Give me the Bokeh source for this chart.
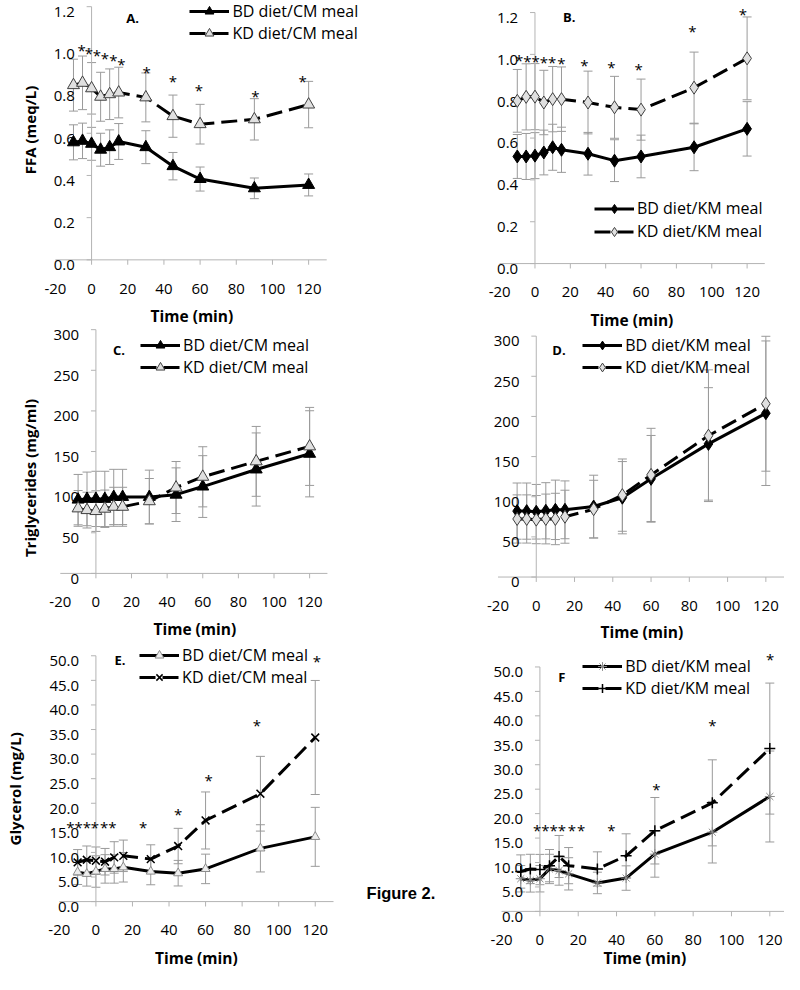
import math
from bokeh.plotting import figure
from bokeh.models import Range1d, Whisker, ColumnDataSource, Legend, LegendItem, TeeHead
from bokeh.core.properties import value
from bokeh.embed import file_html
from bokeh.resources import INLINE

# ---------------- data ----------------
time_min = [-10, -5, 0, 5, 10, 15, 30, 45, 60, 90, 120]
x_ticks = [-20, 0, 20, 40, 60, 80, 100, 120]
x_tick_labels = ["-20", "0", "20", "40", "60", "80", "100", "120"]

ffa_ticks = [0.0, 0.2, 0.4, 0.6, 0.8, 1.0, 1.2]
ffa_tick_labels = ["0.0", "0.2", "0.4", "0.6", "0.8", "1.0", "1.2"]
tg_ticks = [0, 50, 100, 150, 200, 250, 300]
tg_tick_labels = ["0", "50", "100", "150", "200", "250", "300"]
gly_ticks = [0, 5, 10, 15, 20, 25, 30, 35, 40, 45, 50]
gly_tick_labels = ["0.0", "5.0", "10.0", "15.0", "20.0", "25.0", "30.0", "35.0", "40.0", "45.0", "50.0"]

# A. FFA, CM meal
ffa_bd_cm = [0.557, 0.564, 0.550, 0.522, 0.534, 0.561, 0.534, 0.444, 0.383, 0.339, 0.355]
ffa_bd_cm_se = [0.083, 0.084, 0.078, 0.078, 0.082, 0.085, 0.078, 0.065, 0.057, 0.049, 0.052]
ffa_kd_cm = [0.828, 0.839, 0.813, 0.773, 0.785, 0.793, 0.770, 0.681, 0.643, 0.666, 0.736]
ffa_kd_cm_se = [0.123, 0.127, 0.122, 0.116, 0.120, 0.120, 0.116, 0.100, 0.094, 0.098, 0.110]
ffa_cm_star_x = [-5.5, -1.5, 2.9, 7.3, 12.0, 16.5, 30.5, 44.9, 59.3, 90.5, 116.7]
ffa_cm_star_y = [1.035, 1.020, 1.009, 0.998, 0.986, 0.969, 0.928, 0.885, 0.843, 0.815, 0.889]

# B. FFA, KM meal
ffa_bd_km = [0.512, 0.512, 0.516, 0.531, 0.556, 0.544, 0.525, 0.492, 0.512, 0.556, 0.644]
ffa_bd_km_se = [0.105, 0.110, 0.110, 0.107, 0.110, 0.108, 0.102, 0.100, 0.102, 0.112, 0.130]
ffa_kd_km = [0.778, 0.797, 0.798, 0.770, 0.786, 0.786, 0.770, 0.747, 0.736, 0.841, 0.981]
ffa_kd_km_se = [0.150, 0.158, 0.158, 0.154, 0.156, 0.154, 0.150, 0.148, 0.146, 0.170, 0.198]
ffa_km_star_x = [-8.9, -4.3, 0.4, 5.0, 9.7, 14.9, 27.9, 43.2, 58.6, 89.1, 117.6]
ffa_km_star_y = [1.011, 1.009, 1.008, 1.005, 1.001, 0.997, 0.989, 0.978, 0.970, 1.153, 1.234]

# C. Triglycerides, CM meal
tg_bd_cm = [90.8, 91.7, 91.7, 91.7, 94.1, 94.1, 94.1, 96.9, 106.9, 127.9, 147.2]
tg_bd_cm_se = [31, 33, 34, 34, 34, 34, 33, 33, 38, 45, 53]
tg_kd_cm = [80.0, 77.9, 76.7, 79.6, 82.0, 82.0, 88.8, 105.7, 118.9, 137.9, 156.3]
tg_kd_cm_se = [22, 22, 25, 23, 24, 24, 28, 32, 37, 43, 48]

# D. Triglycerides, KM meal
tg_bd_km = [82.1, 82.1, 81.3, 82.5, 83.7, 83.7, 87.8, 98.8, 122.3, 165.8, 204.0]
tg_bd_km_se = [35, 35, 34, 35, 37, 36, 39, 45, 54, 70, 90]
tg_kd_km = [72.3, 72.3, 71.5, 72.3, 72.3, 75.1, 84.5, 102.0, 127.2, 176.0, 215.8]
tg_kd_km_se = [30, 30, 30, 31, 32, 33, 36, 45, 58, 82, 84]

# E. Glycerol, CM meal
gly_bd_cm = [5.98, 5.65, 6.12, 6.65, 6.65, 6.98, 6.12, 5.78, 6.65, 10.83, 13.17]
gly_bd_cm_se = [2.5, 2.5, 3.2, 2.9, 2.9, 3.0, 2.7, 2.6, 3.0, 4.8, 6.0]
gly_kd_cm = [7.98, 8.51, 8.31, 8.11, 8.98, 9.31, 8.65, 11.3, 16.5, 21.94, 33.38]
gly_kd_cm_se = [2.6, 2.8, 2.8, 2.7, 3.2, 3.2, 2.9, 3.6, 5.8, 7.6, 11.6]
gly_cm_star_x = [-14.0, -9.5, -5.0, -0.5, 4.5, 9.0, 25.9, 45.0, 61.7, 88.1, 120.9]
gly_cm_star_y = [16.76, 16.76, 16.76, 16.76, 16.76, 16.76, 16.76, 19.49, 26.47, 37.56, 50.53]

# F. Glycerol, KM meal
gly_bd_km = [6.68, 6.35, 6.68, 8.68, 8.36, 7.68, 5.82, 6.82, 11.7, 16.2, 23.5]
gly_bd_km_se = [2.7, 2.4, 2.7, 3.0, 3.0, 3.3, 2.2, 2.5, 4.7, 6.3, 9.3]
gly_kd_km = [8.16, 8.68, 8.56, 9.36, 11.23, 9.36, 8.68, 11.37, 16.5, 22.2, 33.3]
gly_kd_km_se = [3.4, 3.0, 3.1, 3.3, 4.3, 3.7, 3.5, 4.5, 6.8, 8.8, 13.4]
gly_km_star_x = [-1.4, 2.9, 7.2, 11.5, 16.7, 21.5, 37.3, 60.8, 90.0, 120.2]
gly_km_star_y = [18.39, 18.39, 18.39, 18.39, 18.39, 18.39, 18.39, 26.73, 39.76, 53.34]

# ---------------- styling / layout ----------------
FONT = "Open Sans"
AXIS_COL = "#B4B4B4"
ERR_COL = "#9A9A9A"
DASH = "16 7"

W, H = 784, 974               # one canvas, every panel gets its own pair of ranges
AX, FX = 1.0, W / 794.6       # reference-pixel -> canvas-pixel mapping (x)
AY, FY = 1.0, 956.0 / 975.0   # reference-pixel -> canvas-pixel mapping (y), keeps room at the bottom

tri_open = dict(marker="triangle", size=12, fill_color="#E0E0E0", line_color="#404040", line_width=1)
tri_full = dict(marker="triangle", size=12, fill_color="black", line_color="black", line_width=1)
dia_full = dict(marker="diamond", size=13, fill_color="black", line_color="black", line_width=1)
dia_open = dict(marker="diamond", size=13, fill_color="#E0E0E0", line_color="#404040", line_width=1)
tri_small = dict(marker="triangle", size=9, fill_color="#EDEDED", line_color="#8C8C8C", line_width=1)
x_mark = dict(marker="x", size=11, line_color="black", line_width=1.5)
ast_mark = dict(marker="asterisk", size=10, line_color="#8C8C8C", line_width=1)
plus_mark = dict(marker="cross", size=11, line_color="black", line_width=1.5)

panels = [
    dict(name="A", x0=93.3, x120=313.3, y0=265.5, ytop=7.3, ymax=1.2,
         ticks=ffa_ticks, tick_labels=ffa_tick_labels,
         ytitle="FFA (meq/L)", ytitle_pos=(25, 133), letter="A.", letter_pos=(135, 13.8),
         xtitle_pos=(195, 317.5), leg_left=193, leg_row1=12.0, leg_pitch=22,
         series=[("BD diet/CM meal", ffa_bd_cm, ffa_bd_cm_se, None, tri_full),
                 ("KD diet/CM meal", ffa_kd_cm, ffa_kd_cm_se, DASH, tri_open)],
         stars=(ffa_cm_star_x, ffa_cm_star_y)),
    dict(name="B", x0=542.7, x120=757.7, y0=269.3, ytop=13.3, ymax=1.2,
         ticks=ffa_ticks, tick_labels=ffa_tick_labels,
         ytitle=None, letter="B.", letter_pos=(577.5, 13.3),
         xtitle_pos=(641, 321.7), leg_left=603, leg_row1=213.3, leg_pitch=23,
         series=[("BD diet/KM meal", ffa_bd_km, ffa_bd_km_se, None, dia_full),
                 ("KD diet/KM meal", ffa_kd_km, ffa_kd_km_se, DASH, dia_open)],
         stars=(ffa_km_star_x, ffa_km_star_y)),
    dict(name="C", x0=97.7, x120=314.3, y0=585.3, ytop=336.7, ymax=300,
         ticks=tg_ticks, tick_labels=tg_tick_labels,
         ytitle="Triglycerides (mg/ml)", ytitle_pos=(25, 488), letter="C.", letter_pos=(121, 353.3),
         xtitle_pos=(198, 636.7), leg_left=143, leg_row1=353.3, leg_pitch=22,
         series=[("BD diet/CM meal", tg_bd_cm, tg_bd_cm_se, None, tri_full),
                 ("KD diet/CM meal", tg_kd_cm, tg_kd_cm_se, DASH, tri_open)],
         stars=None),
    dict(name="D", x0=544.0, x120=776.7, y0=589.0, ytop=343.3, ymax=300,
         ticks=tg_ticks, tick_labels=tg_tick_labels,
         ytitle=None, letter="D.", letter_pos=(567, 353.3),
         xtitle_pos=(651, 640), leg_left=591, leg_row1=353.3, leg_pitch=22,
         series=[("BD diet/KM meal", tg_bd_km, tg_bd_km_se, None, dia_full),
                 ("KD diet/KM meal", tg_kd_km, tg_kd_km_se, DASH, dia_open)],
         stars=None),
    dict(name="E", x0=97.7, x120=320.0, y0=920.0, ytop=669.3, ymax=50,
         ticks=gly_ticks, tick_labels=gly_tick_labels,
         ytitle="Glycerol (mg/L)", ytitle_pos=(10, 805), letter="E.", letter_pos=(122, 669.3),
         xtitle_pos=(199.5, 972.0), leg_left=142, leg_row1=669.3, leg_pitch=22,
         series=[("BD diet/CM meal", gly_bd_cm, gly_bd_cm_se, None, tri_small),
                 ("KD diet/CM meal", gly_kd_cm, gly_kd_cm_se, DASH, x_mark)],
         stars=(gly_cm_star_x, gly_cm_star_y), figure_note=(372, 905)),
    dict(name="F", x0=547.7, x120=780.7, y0=930.0, ytop=680.7, ymax=50,
         ticks=gly_ticks, tick_labels=gly_tick_labels,
         ytitle=None, letter="F", letter_pos=(570, 686.7),
         xtitle_pos=(654, 972.0), leg_left=591, leg_row1=680.7, leg_pitch=22,
         series=[("BD diet/KM meal", gly_bd_km, gly_bd_km_se, None, ast_mark),
                 ("KD diet/KM meal", gly_kd_km, gly_kd_km_se, DASH, plus_mark)],
         stars=(gly_km_star_x, gly_km_star_y)),
]

p = figure(width=W, height=H, x_range=Range1d(0, 1), y_range=Range1d(0, 1),
           x_axis_type=None, y_axis_type=None, toolbar_location=None,
           output_backend="svg", min_border=0, outline_line_color=None)


def txt(n, x, y, s, size, bold=False, align="center", angle=0.0, font=FONT):
    p.text(x=x, y=y, text=s, text_font=value(font), text_font_size=value(size),
           text_font_style="bold" if bold else "normal", text_color="black",
           text_align=align, text_baseline="alphabetic", angle=angle,
           x_range_name=n, y_range_name=n)


for s in panels:
    n = s["name"]
    kx = (s["x120"] - s["x0"]) / 120.0
    ky = (s["y0"] - s["ytop"]) / s["ymax"]
    p.extra_x_ranges[n] = Range1d((AX - s["x0"]) / kx, (AX + W / FX - s["x0"]) / kx)
    p.extra_y_ranges[n] = Range1d((s["y0"] - AY - H / FY) / ky, (s["y0"] - AY) / ky)

    def dx(rx):
        return (rx - s["x0"]) / kx

    def dy(ry):
        return (s["y0"] - ry) / ky

    rn = dict(x_range_name=n, y_range_name=n)

    # axes crossing at x = 0 and y = 0 (Excel style)
    nt = len(x_ticks)
    m = len(s["ticks"])
    p.segment(x0=[-20], y0=[0], x1=[130], y1=[0], line_color=AXIS_COL, line_width=1, **rn)
    p.segment(x0=[0], y0=[0], x1=[0], y1=[s["ymax"]], line_color=AXIS_COL, line_width=1, **rn)
    p.segment(x0=x_ticks[1:], y0=[0] * (nt - 1), x1=x_ticks[1:], y1=[-5 / ky] * (nt - 1),
              line_color=AXIS_COL, line_width=1, **rn)
    p.segment(x0=[-5 / kx] * m, y0=s["ticks"], x1=[0] * m, y1=s["ticks"],
              line_color=AXIS_COL, line_width=1, **rn)
    txt(n, x_ticks, [-(24 + 5.4) / ky] * nt, x_tick_labels, "15px")
    txt(n, [-17 / kx] * m, [v - 5.4 / ky for v in s["ticks"]], s["tick_labels"], "15px", align="right")

    # titles
    cx, cy = s["xtitle_pos"]
    txt(n, [dx(cx)], [dy(cy + 5.5)], ["Time (min)"], "15.5px", bold=True)
    if s["ytitle"]:
        tx, ty = s["ytitle_pos"]
        txt(n, [dx(tx + 5.5)], [dy(ty)], [s["ytitle"]], "15px", bold=True, angle=math.pi / 2)
    lx, ly = s["letter_pos"]
    txt(n, [dx(lx)], [dy(ly + 4.6)], [s["letter"]], "13px", bold=True)
    if "figure_note" in s:
        fx_, fy_ = s["figure_note"]
        txt(n, [dx(fx_)], [dy(fy_ + 5.9)], ["Figure 2."], "16.5px", bold=True, align="left",
            font="Liberation Sans")

    # series with SE bars
    items = []
    for label, ys, se, dash, mk in s["series"]:
        src = ColumnDataSource(dict(x=time_min, y=ys,
                                    lo=[a - b for a, b in zip(ys, se)],
                                    hi=[a + b for a, b in zip(ys, se)]))
        p.add_layout(Whisker(source=src, base="x", upper="hi", lower="lo", dimension="height",
                             line_color=ERR_COL, line_width=1, level="underlay",
                             upper_head=TeeHead(size=9, line_color=ERR_COL, line_width=1),
                             lower_head=TeeHead(size=9, line_color=ERR_COL, line_width=1),
                             **rn))
        kw = dict(line_color="black", line_width=3)
        if dash:
            kw["line_dash"] = dash
        rl = p.line("x", "y", source=src, **kw, **rn)
        rm = p.scatter("x", "y", source=src, **mk, **rn)
        items.append(LegendItem(label=label, renderers=[rl, rm]))

    # significance stars
    if s["stars"]:
        sx, sy = s["stars"]
        txt(n, sx, [v - 8.4 / ky for v in sy], ["*"] * len(sx), "15px")

    # legend (screen position derived from the same mapping)
    pitch = s["leg_pitch"]
    top_c = (s["leg_row1"] - AY) * FY - pitch / 2
    leg = Legend(items=items,
                 location=((s["leg_left"] - AX) * FX, H - (top_c + 2 * pitch)),
                 orientation="vertical", padding=0, margin=0, spacing=0,
                 glyph_width=40, glyph_height=pitch, label_height=pitch, label_standoff=3,
                 label_text_font=FONT, label_text_font_size="16px", label_text_color="black",
                 background_fill_alpha=0, border_line_alpha=0)
    p.add_layout(leg)

open("out.html", "w").write(file_html(p, INLINE))
